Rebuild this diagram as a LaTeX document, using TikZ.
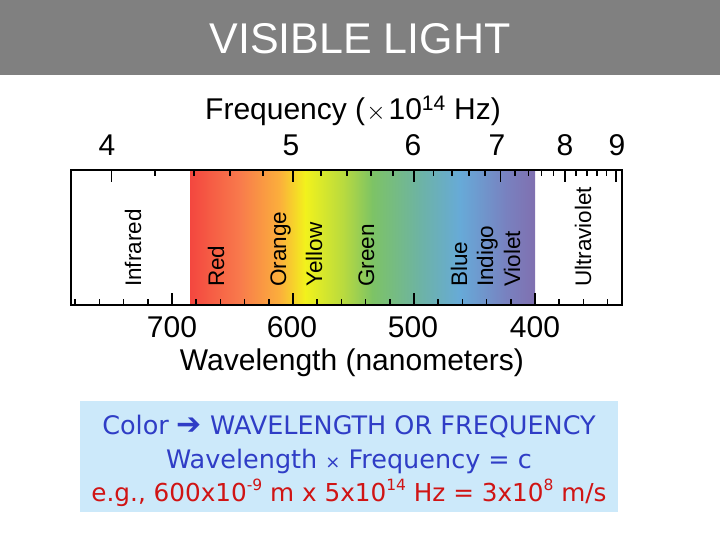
\documentclass[tikz,border=0pt]{standalone}
\usepackage{fontspec}
\setmainfont{Liberation Sans}
\newfontfamily\dvs{DejaVu Sans}
\definecolor{titlegray}{HTML}{808080}
\definecolor{boxblue}{HTML}{CCE9FA}
\definecolor{txtblue}{HTML}{2F3DC6}
\definecolor{txtred}{HTML}{D01414}
\definecolor{s1}{HTML}{F4473F}
\definecolor{s2}{HTML}{F87B4C}
\definecolor{s3}{HTML}{FBB03B}
\definecolor{s4}{HTML}{F2F21C}
\definecolor{s5}{HTML}{B5D941}
\definecolor{s6}{HTML}{7DC365}
\definecolor{s7}{HTML}{6DB3A5}
\definecolor{s8}{HTML}{67AAD8}
\definecolor{s9}{HTML}{7882C0}
\definecolor{s10}{HTML}{8070B0}
\newcommand{\sups}[1]{\raisebox{0.42em}{\fontsize{15.5}{15.5}\selectfont #1}}
\tikzset{
  axislabel/.style={font=\fontsize{30}{30}\selectfont, inner sep=0pt, anchor=base},
  bandlabel/.style={font=\fontsize{22.5}{22.5}\selectfont, inner sep=0pt, rotate=90, anchor=base west},
  tickline/.style={line width=1.7pt},
  boxtext/.style={font=\dvs\fontsize{25.5}{25.5}\selectfont, inner sep=0pt, anchor=base}
}
\begin{document}
\begin{tikzpicture}[x=1pt,y=-1pt]
\useasboundingbox (0,0) rectangle (720,540);
% title bar
\fill[titlegray] (0,0) rectangle (720,75);
\node[text=white, font=\fontsize{43}{43}\selectfont, inner sep=0pt] (title) at (360,39) {VISIBLE LIGHT};
% spectrum gradient
\shade[left color=s1, right color=s2] (190,170) rectangle (240.5,305);
\shade[left color=s2, right color=s3] (240,170) rectangle (280.5,305);
\shade[left color=s3, right color=s4] (280,170) rectangle (305.5,305);
\shade[left color=s4, right color=s5] (305,170) rectangle (345.5,305);
\shade[left color=s5, right color=s6] (345,170) rectangle (372.5,305);
\shade[left color=s6, right color=s7] (372,170) rectangle (420.5,305);
\shade[left color=s7, right color=s8] (420,170) rectangle (460.5,305);
\shade[left color=s8, right color=s9] (460,170) rectangle (505.5,305);
\shade[left color=s9, right color=s10] (505,170) rectangle (535,305);
% frame
\draw[line width=2pt] (71,170) rectangle (622,305);
% frequency ticks (top)
\foreach \f in {4,5,6,7,8,9}{
  \pgfmathsetmacro{\xx}{172+(700-3000/\f)*1.21}
  \draw[tickline] (\xx,170) -- (\xx,182);
}
\foreach \f in {4.2,4.4,4.6,4.8,5.2,5.4,5.6,5.8,6.2,6.4,6.6,6.8,7.2,7.4,7.6,7.8,8.2,8.4,8.6,8.8}{
  \pgfmathsetmacro{\xx}{172+(700-3000/\f)*1.21}
  \draw[tickline] (\xx,170) -- (\xx,176);
}
% wavelength ticks (bottom)
\foreach \l in {700,600,500,400}{
  \pgfmathsetmacro{\xx}{172+(700-\l)*1.21}
  \draw[tickline] (\xx,305) -- (\xx,293);
}
\foreach \l in {780,760,740,720,680,660,640,620,580,560,540,520,480,460,440,420,380,360,340}{
  \pgfmathsetmacro{\xx}{172+(700-\l)*1.21}
  \draw[tickline] (\xx,305) -- (\xx,299);
}
% frequency axis labels
\node[axislabel] (ftitle) at (353,120) {Frequency (\kern1pt{\fontsize{26}{26}\selectfont$\times$}\kern3pt10\textsuperscript{14} Hz)};
\node[axislabel] (f4) at (107,156) {4};
\node[axislabel] (f5) at (291,156) {5};
\node[axislabel] (f6) at (413,156) {6};
\node[axislabel] (f7) at (497,156) {7};
\node[axislabel] (f8) at (565,156) {8};
\node[axislabel] (f9) at (617,156) {9};
% wavelength axis labels
\node[axislabel] (w700) at (172,337) {700};
\node[axislabel] (w600) at (292,337) {600};
\node[axislabel] (w500) at (413,337) {500};
\node[axislabel] (w400) at (535,337) {400};
\node[axislabel] (wtitle) at (352,370) {Wavelength (nanometers)};
% band labels
\node[bandlabel] (ir) at (141,287) {Infrared};
\node[bandlabel] (red) at (224,287) {Red};
\node[bandlabel] (orange) at (286,287) {Orange};
\node[bandlabel] (yellow) at (322,287) {Yellow};
\node[bandlabel] (green) at (374,287) {Green};
\node[bandlabel] (blue) at (467,287) {Blue};
\node[bandlabel] (indigo) at (493,287) {Indigo};
\node[bandlabel] (violet) at (520,287) {Violet};
\node[bandlabel] (uv) at (591,287) {Ultraviolet};
% info box
\fill[boxblue] (80,401) rectangle (618,512);
\node[boxtext, text=txtblue] (l1) at (349,434) {Color {\fontsize{30}{30}\selectfont ➔} WAVELENGTH OR FREQUENCY};
\node[boxtext, text=txtblue] (l2) at (349,468) {Wavelength {\fontsize{18}{18}\selectfont ×} Frequency = c};
\node[boxtext, text=txtred, font=\dvs\fontsize{24.7}{24.7}\selectfont] (l3) at (349,501) {e.g., 600x10\sups{-9} m x 5x10\sups{14} Hz = 3x10\sups{8} m/s};
\end{tikzpicture}
\end{document}
